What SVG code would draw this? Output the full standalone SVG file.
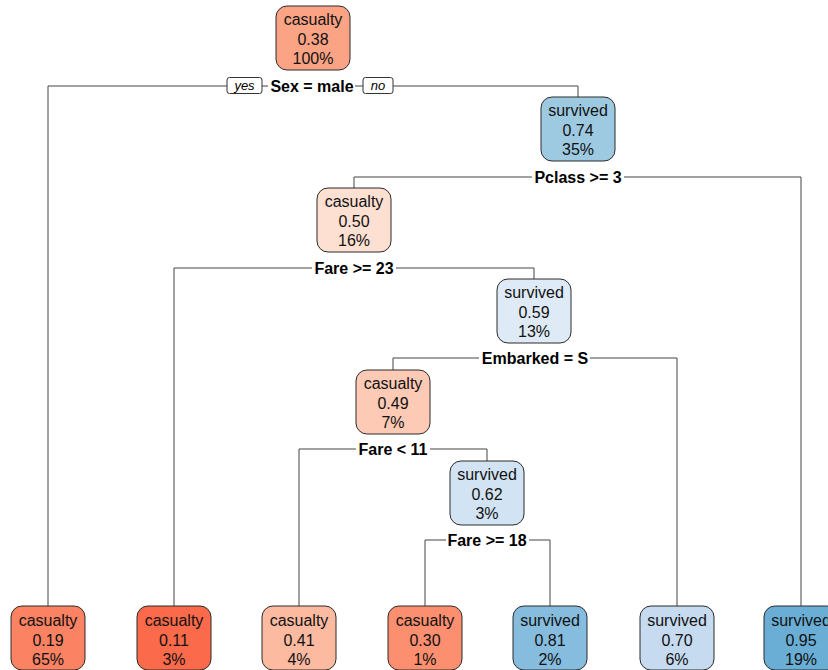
<svg xmlns="http://www.w3.org/2000/svg" width="828" height="670" viewBox="0 0 828 670">
<style>
.node rect{stroke:#2a2a2a;stroke-width:1}
.node text{font-family:"Liberation Sans",Arial,sans-serif;font-size:16px;fill:#111;text-anchor:middle}
.split{font-family:"Liberation Sans",Arial,sans-serif;font-size:16px;font-weight:bold;fill:#000;text-anchor:middle}
.conn line{stroke:#444;stroke-width:1}
.yn rect{fill:#fff;stroke:#333;stroke-width:1}
.yn text{font-family:"Liberation Sans",Arial,sans-serif;font-size:13px;font-style:italic;fill:#000;text-anchor:middle}
</style>
<rect width="828" height="670" fill="#fff"/>
<g id="connectors" class="conn">
<line x1="48" y1="86" x2="227" y2="86"/>
<line x1="262" y1="86" x2="268" y2="86"/>
<line x1="355" y1="86" x2="363" y2="86"/>
<line x1="393" y1="86" x2="578" y2="86"/>
<line x1="48" y1="86" x2="48" y2="606"/>
<line x1="578" y1="86" x2="578" y2="97"/>
<line x1="354" y1="177" x2="532" y2="177"/>
<line x1="624" y1="177" x2="801" y2="177"/>
<line x1="354" y1="177" x2="354" y2="188"/>
<line x1="801" y1="177" x2="801" y2="606"/>
<line x1="174" y1="268" x2="312" y2="268"/>
<line x1="396" y1="268" x2="534" y2="268"/>
<line x1="174" y1="268" x2="174" y2="606"/>
<line x1="534" y1="268" x2="534" y2="279"/>
<line x1="393" y1="358" x2="479" y2="358"/>
<line x1="590" y1="358" x2="677" y2="358"/>
<line x1="393" y1="358" x2="393" y2="370"/>
<line x1="677" y1="358" x2="677" y2="606"/>
<line x1="299" y1="449" x2="356" y2="449"/>
<line x1="430" y1="449" x2="487" y2="449"/>
<line x1="299" y1="449" x2="299" y2="606"/>
<line x1="487" y1="449" x2="487" y2="461"/>
<line x1="425" y1="540" x2="446" y2="540"/>
<line x1="529" y1="540" x2="550" y2="540"/>
<line x1="425" y1="540" x2="425" y2="606"/>
<line x1="550" y1="540" x2="550" y2="606"/>
</g>
<g id="split-labels">
<text class="split" x="312" y="91.5">Sex = male</text>
<text class="split" x="578" y="182.5">Pclass &gt;= 3</text>
<text class="split" x="354" y="273.5">Fare &gt;= 23</text>
<text class="split" x="535" y="363.5">Embarked = S</text>
<text class="split" x="393" y="454.5">Fare &lt; 11</text>
<text class="split" x="487" y="545.5">Fare &gt;= 18</text>
<g class="yn">
<rect x="227" y="77.5" width="35" height="16" rx="2.5"/>
<text x="244.5" y="90">yes</text>
<rect x="363" y="77.5" width="30" height="16" rx="2.5"/>
<text x="378" y="90">no</text>
</g>
</g>
<g id="n1" class="node"><rect x="276" y="6" width="74" height="64" rx="11" fill="#FBA385"/><text x="313" y="25">casualty</text><text x="313" y="45">0.38</text><text x="313" y="64">100%</text></g>
<g id="n3" class="node"><rect x="541" y="97" width="74" height="64" rx="11" fill="#9ECAE1"/><text x="578" y="116">survived</text><text x="578" y="136">0.74</text><text x="578" y="155">35%</text></g>
<g id="n6" class="node"><rect x="317" y="188" width="74" height="64" rx="11" fill="#FEE0D2"/><text x="354" y="207">casualty</text><text x="354" y="227">0.50</text><text x="354" y="246">16%</text></g>
<g id="n13" class="node"><rect x="497" y="279" width="74" height="64" rx="11" fill="#DEEBF7"/><text x="534" y="298">survived</text><text x="534" y="318">0.59</text><text x="534" y="337">13%</text></g>
<g id="n26" class="node"><rect x="356" y="370" width="74" height="64" rx="11" fill="#FDCAB5"/><text x="393" y="389">casualty</text><text x="393" y="409">0.49</text><text x="393" y="428">7%</text></g>
<g id="n53" class="node"><rect x="450" y="461" width="74" height="64" rx="11" fill="#D2E3F3"/><text x="487" y="480">survived</text><text x="487" y="500">0.62</text><text x="487" y="519">3%</text></g>
<g id="leaf2" class="node"><rect x="11" y="606" width="74" height="64" rx="11" fill="#FB8262"/><text x="48" y="626">casualty</text><text x="48" y="646">0.19</text><text x="48" y="665">65%</text></g>
<g id="leaf12" class="node"><rect x="137" y="606" width="74" height="64" rx="11" fill="#FB6A4A"/><text x="174" y="626">casualty</text><text x="174" y="646">0.11</text><text x="174" y="665">3%</text></g>
<g id="leaf52" class="node"><rect x="262" y="606" width="74" height="64" rx="11" fill="#FCBBA1"/><text x="299" y="626">casualty</text><text x="299" y="646">0.41</text><text x="299" y="665">4%</text></g>
<g id="leaf106" class="node"><rect x="388" y="606" width="74" height="64" rx="11" fill="#FC8F6F"/><text x="425" y="626">casualty</text><text x="425" y="646">0.30</text><text x="425" y="665">1%</text></g>
<g id="leaf107" class="node"><rect x="513" y="606" width="74" height="64" rx="11" fill="#86BCDE"/><text x="550" y="626">survived</text><text x="550" y="646">0.81</text><text x="550" y="665">2%</text></g>
<g id="leaf27" class="node"><rect x="640" y="606" width="74" height="64" rx="11" fill="#C6DBEF"/><text x="677" y="626">survived</text><text x="677" y="646">0.70</text><text x="677" y="665">6%</text></g>
<g id="leaf7" class="node"><rect x="764" y="606" width="74" height="64" rx="11" fill="#6AAED6"/><text x="801" y="626">survived</text><text x="801" y="646">0.95</text><text x="801" y="665">19%</text></g>
</svg>
